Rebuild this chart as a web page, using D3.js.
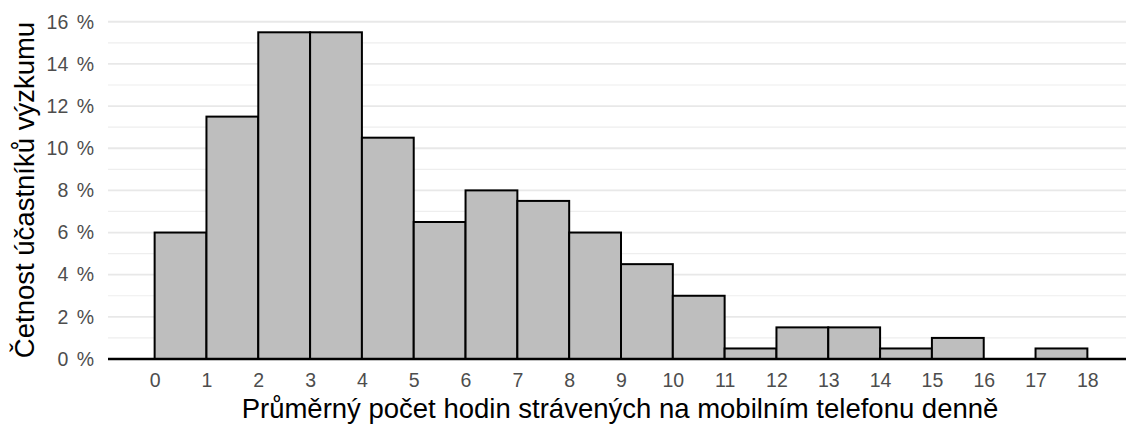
<!DOCTYPE html>
<html>
<head>
<meta charset="utf-8">
<script src="https://cdn.jsdelivr.net/npm/d3@7"></script>
<style>
  body { margin: 0; background: #fff; }
  text { font-family: "Liberation Sans", Arial, sans-serif; }
</style>
</head>
<body>
<div class="chart"></div>
<script>
// histogram bins: hours per day [start, end)
const binStarts = [0, 1, 2, 3, 4, 5, 6, 7, 8, 9, 10, 11, 12, 13, 14, 15, 16, 17];
const percents  = [6, 11.5, 15.5, 15.5, 10.5, 6.5, 8, 7.5, 6, 4.5, 3, 0.5, 1.5, 1.5, 0.5, 1, 0, 0.5];
const xTicks = d3.range(0, 19);
const yTicks = [0, 2, 4, 6, 8, 10, 12, 14, 16];
const yMinor = [1, 3, 5, 7, 9, 11, 13, 15];

const w = 1126, h = 424;
const padLeft = 108, padRight = 1134, padBottom = 359;

const xScale = d3.scaleLinear().domain([-0.9, 18.9]).range([padLeft, padRight]);
const yScale = d3.scaleLinear().domain([0, 15.5]).range([padBottom, 32.3]);

const svg = d3.select(".chart").append("svg")
  .attr("width", w).attr("height", h);

/* grid */
svg.append("g").selectAll("line").data(yMinor).enter().append("line")
  .attr("x1", padLeft).attr("x2", w)
  .attr("y1", d => yScale(d)).attr("y2", d => yScale(d))
  .attr("stroke", "#eeeeee").attr("stroke-width", 1.2);
svg.append("g").selectAll("line").data(yTicks.slice(1)).enter().append("line")
  .attr("x1", padLeft).attr("x2", w)
  .attr("y1", d => yScale(d)).attr("y2", d => yScale(d))
  .attr("stroke", "#e8e8e8").attr("stroke-width", 1.8);

/* bars */
svg.append("g").selectAll("rect").data(binStarts).enter().append("rect")
  .attr("x", d => xScale(d))
  .attr("y", (d, i) => yScale(percents[i]))
  .attr("width", d => xScale(d + 1) - xScale(d))
  .attr("height", (d, i) => padBottom - yScale(percents[i]))
  .attr("fill", "#bebebe")
  .attr("stroke", "#000")
  .attr("stroke-width", 2)
  .attr("display", (d, i) => percents[i] > 0 ? null : "none");

/* baseline */
svg.append("line")
  .attr("x1", padLeft).attr("x2", w)
  .attr("y1", yScale(0)).attr("y2", yScale(0))
  .attr("stroke", "#000").attr("stroke-width", 2.5);

/* axes */
const xAxis = d3.axisBottom(xScale).tickValues(xTicks).tickSize(0).tickPadding(14);
const gx = svg.append("g").attr("transform", "translate(0," + padBottom + ")").call(xAxis);
gx.select(".domain").remove();
gx.selectAll("text").attr("fill", "#4d4d4d").style("font-size", "19.5px")
  .style("font-family", "Liberation Sans, Arial, sans-serif");

const yAxis = d3.axisLeft(yScale).tickValues(yTicks).tickSize(0).tickPadding(14)
  .tickFormat(d => d + " %");
const gy = svg.append("g").attr("transform", "translate(" + padLeft + ",0)").call(yAxis);
gy.select(".domain").remove();
gy.selectAll("text").attr("fill", "#4d4d4d").style("font-size", "19.5px")
  .style("font-family", "Liberation Sans, Arial, sans-serif")
  .style("word-spacing", "3px");

/* titles */
svg.append("text")
  .attr("x", 620).attr("y", 418)
  .attr("text-anchor", "middle")
  .style("font-size", "27.5px")
  .attr("fill", "#000")
  .text("Průměrný počet hodin strávených na mobilním telefonu denně");

svg.append("text")
  .attr("transform", "translate(34," + 190 + ") rotate(-90)")
  .attr("text-anchor", "middle")
  .style("font-size", "27.5px")
  .attr("fill", "#000")
  .text("Četnost účastníků výzkumu");
</script>
</body>
</html>
